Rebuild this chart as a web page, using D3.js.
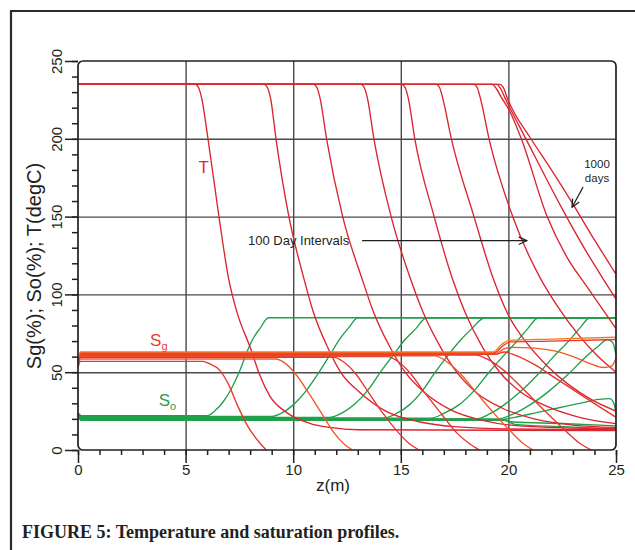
<!DOCTYPE html>
<html><head><meta charset="utf-8">
<script src="https://cdn.jsdelivr.net/npm/d3@7"></script>
<style>
html,body{margin:0;padding:0;background:#fff;}
svg{display:block;}
</style></head><body>
<svg id="chart" width="635" height="550"></svg>
<script>
// Profiles along the tube, one curve every 100 days (100 ... 1000 days).
const days = [100, 200, 300, 400, 500, 600, 700, 800, 900, 1000];
const zTicks = [0, 5, 10, 15, 20, 25];
const vTicks = [0, 50, 100, 150, 200, 250];

// Temperature, degC, as [z(m), T]
const T100 = [[0,235],[5.45,235],[5.6,233],[5.75,226],[6.04,200],[6.55,150],[7.0,110],[7.4,88],[8.0,66],[8.45,48],[8.9,35],[9.7,24],[10.8,17],[11.7,14.5],[13,13],[25,12.5]];
const T200 = [[0,235],[8.65,235],[8.8,233],[8.95,226],[9.2,200],[9.8,150],[10.5,110],[10.95,88],[11.6,66],[12.2,50],[13.1,37],[14.3,25],[15.9,18],[17.5,15],[20,13.5],[25,13]];
const T300 = [[0,235],[10.95,235],[11.1,233],[11.25,226],[11.55,200],[12.3,150],[13.2,110],[13.75,88],[14.5,66],[15.2,50],[16.1,37],[17.3,26],[18.8,19],[20.5,15.5],[25,13.5]];
const T400 = [[0,235],[13.15,235],[13.3,233],[13.45,226],[13.75,200],[14.55,150],[15.45,110],[16.05,88],[16.85,66],[17.6,50],[18.5,37],[19.7,27],[21.2,20],[23,16],[25,14.5]];
const T500 = [[0,235],[15.05,235],[15.2,233],[15.35,226],[15.65,200],[16.55,150],[17.4,110],[18.0,88],[18.8,66],[19.6,50],[20.6,37],[21.8,28],[23.3,21],[25,17]];
const T600 = [[0,235],[16.65,235],[16.8,233],[16.95,226],[17.35,200],[18.4,150],[19.3,110],[19.95,88],[20.9,68],[21.8,54],[22.8,42],[23.9,32],[25,25]];
const T700 = [[0,235],[18.4,235],[18.55,233],[18.7,226],[19.1,200],[20.2,150],[21.5,110],[22.3,92],[23.2,75],[24.1,61],[25,50]];
const T800 = [[0,235],[19.25,235],[19.45,232],[19.7,226],[20.05,218],[20.6,200],[21.8,150],[22.8,122],[23.6,106],[24.3,92],[25,78]];
const T900 = [[0,235],[19.45,235],[19.65,232],[19.85,226],[20.1,219],[20.7,203],[22.5,155],[23.6,128],[24.4,110],[25,97]];
const T1000 = [[0,235],[19.6,235],[19.8,232],[19.95,226],[20.15,220],[21.0,201],[22.0,180],[23.0,158],[24.0,135],[25,113]];

// Gas saturation, %, as [z(m), Sg]
const Sg100 = [[0,53],[0.12,57],[5.8,57],[6.1,55.5],[6.6,51],[7.0,42],[7.4,29],[7.9,15],[8.45,4.5],[8.75,0]];
const Sg200 = [[0,54],[0.12,58.5],[9.2,58.5],[9.6,56],[10.1,49],[10.7,37],[11.3,24],[11.9,11],[12.35,4],[12.75,0]];
const Sg300 = [[0,55],[0.12,59.5],[11.9,59.5],[12.3,57],[12.9,49],[13.5,37],[14.2,23],[14.9,11],[15.4,4],[15.85,0]];
const Sg400 = [[0,56],[0.12,60],[14.4,60],[14.8,57.5],[15.4,50],[16.1,37],[16.9,23],[17.6,11],[18.2,4],[18.65,0]];
const Sg500 = [[0,56],[0.12,60.5],[16.6,60.5],[17.0,58],[17.7,50],[18.5,37],[19.3,24],[20.1,12],[20.7,4],[21.15,0]];
const Sg600 = [[0,57],[0.12,61],[18.5,61],[19.0,58.5],[19.8,51],[20.7,39],[21.7,25],[22.6,13],[23.3,4.5],[23.85,0]];
const Sg700 = [[0,57],[0.12,61.5],[19.4,61.5],[19.8,63],[20.3,61],[21.2,55],[22.2,46],[23.2,37],[24.2,28],[25,21]];
const Sg800 = [[0,58],[0.12,62],[19.4,62],[19.8,65],[20.2,66],[21.2,65.5],[22.2,63.5],[23.1,59.5],[23.8,55.5],[24.4,53],[24.8,54],[25,59]];
const Sg900 = [[0,58],[0.12,62.5],[19.35,62.5],[19.75,67],[20.1,69.5],[22,70],[25,71]];
const Sg1000 = [[0,59],[0.12,63],[19.3,63],[19.7,68],[20.05,70.5],[22,71.3],[25,72.5]];

// Oil saturation, %, as [z(m), So]
const So100 = [[0,24],[0.15,22],[6.0,22],[6.35,25],[6.75,31],[7.15,40],[7.55,52],[7.85,63],[8.15,72],[8.45,78],[8.85,85],[25,85]];
const So200 = [[0,23.5],[0.15,21.5],[9.0,21.5],[9.5,24],[10.0,29],[10.6,38],[11.2,50],[11.7,61],[12.2,72],[12.6,79],[13.0,85],[25,85]];
const So300 = [[0,23],[0.15,21],[11.7,21],[12.3,24],[12.9,30],[13.5,39],[14.1,51],[14.7,62],[15.2,71],[15.7,78],[16.2,85],[25,85]];
const So400 = [[0,22.5],[0.15,20.5],[14.2,20.5],[14.8,23.5],[15.4,29],[16.0,38],[16.6,50],[17.2,61],[17.8,71],[18.3,78],[18.9,85],[25,85]];
const So500 = [[0,22.5],[0.15,20.5],[16.4,20.5],[17.0,23.5],[17.7,29],[18.4,38],[19.1,50],[19.8,61],[20.4,70],[20.9,78],[21.4,85],[25,85]];
const So600 = [[0,22],[0.15,20],[18.5,20],[19.1,23],[19.8,29],[20.6,38],[21.4,49],[22.1,60],[22.8,70],[23.3,78],[23.8,85],[25,85]];
const So700 = [[0,22],[0.15,20],[19.5,20],[20.2,23],[21.0,29],[21.9,38],[22.8,49],[23.6,60],[24.2,67],[24.6,71],[24.85,69],[25,61]];
const So800 = [[0,21.5],[0.15,19.5],[19.6,19.5],[20.3,21],[21.3,24],[22.3,27],[23.3,30],[24.2,32.5],[24.7,33],[24.9,30],[25,23]];
const So900 = [[0,21.5],[0.15,19.5],[19.7,19.5],[20.2,18],[22.5,17],[25,15.5]];
const So1000 = [[0,21],[0.15,19],[19.8,19],[20.3,16.5],[22.5,15],[25,13.5]];

const tempProfiles = [T100, T200, T300, T400, T500, T600, T700, T800, T900, T1000];
const gasProfiles = [Sg100, Sg200, Sg300, Sg400, Sg500, Sg600, Sg700, Sg800, Sg900, Sg1000];
const oilProfiles = [So100, So200, So300, So400, So500, So600, So700, So800, So900, So1000];

const svg = d3.select("#chart");
const ink = "#231f20";
const sans = "'Liberation Sans', Arial, Helvetica, sans-serif";
const x = d3.scaleLinear().domain([0, 25]).range([78, 616]);
const y = d3.scaleLinear().domain([0, 250]).range([450, 61]);
const [x0, x1] = x.range();
const [yb, yt] = y.range();

// page frame
svg.append("path").attr("d", `M11,550 L11,11 L635,11`)
  .attr("fill", "none").attr("stroke", "#2b2b2b").attr("stroke-width", 2.2);

// grid
const gridStyle = g => {
  g.select(".domain").remove();
  g.selectAll("line").attr("stroke", "#4a4a4a").attr("stroke-width", 1.4);
};
svg.append("g").attr("transform", `translate(0,${yb})`)
  .call(d3.axisBottom(x).tickValues(zTicks.slice(1, -1)).tickSize(-(yb - yt)).tickFormat(""))
  .call(gridStyle);
svg.append("g").attr("transform", `translate(${x0},0)`)
  .call(d3.axisLeft(y).tickValues(vTicks.slice(1, -1)).tickSize(-(x1 - x0)).tickFormat(""))
  .call(gridStyle);

// curves
const line = d3.line().x(d => x(d[0])).y(d => y(d[1])).curve(d3.curveMonotoneX);
const draw = (profiles, colorOf) => {
  svg.append("g").attr("fill", "none").attr("stroke-width", 1.35)
    .selectAll("path").data(profiles).join("path")
    .attr("d", line)
    .attr("stroke", (d, i) => colorOf(i));
};
draw(oilProfiles, () => "#20a04b");
draw(tempProfiles, () => "#dc2430");
draw(gasProfiles, i => i === 9 ? "#f47c20" : (i % 3 === 1 ? "#ef5a2a" : "#e8352d"));

// plot frame with rounded corners
svg.append("rect").attr("x", x0).attr("y", yt)
  .attr("width", x1 - x0).attr("height", yb - yt).attr("rx", 5)
  .attr("fill", "none").attr("stroke", ink).attr("stroke-width", 1.7);

// axes
const tickStyle = g => {
  g.select(".domain").remove();
  g.selectAll("line").attr("stroke", ink).attr("stroke-width", 1.5);
  g.selectAll("text").attr("fill", ink)
    .style("font-family", sans)
    .style("font-size", "15px");
};
svg.append("g").attr("transform", `translate(${x0},0)`)
  .call(d3.axisLeft(y).tickValues(d3.range(0, 251, 10)).tickSize(6).tickFormat(""))
  .call(tickStyle);
svg.append("g").attr("transform", `translate(${x0},0)`)
  .call(d3.axisLeft(y).tickValues(vTicks).tickSize(13))
  .call(tickStyle)
  .call(g => g.selectAll(".tick text")
    .attr("transform", "rotate(-90)")
    .attr("x", 0).attr("y", -16).attr("dy", 0)
    .attr("text-anchor", "middle"));
svg.append("g").attr("transform", `translate(0,${yb})`)
  .call(d3.axisBottom(x).tickValues(d3.range(0, 26, 1)).tickSize(5).tickFormat(""))
  .call(tickStyle);
svg.append("g").attr("transform", `translate(0,${yb})`)
  .call(d3.axisBottom(x).tickValues(zTicks).tickSize(13).tickPadding(1))
  .call(tickStyle);

// axis titles
svg.append("text")
  .attr("transform", `translate(41,266) rotate(-90)`)
  .attr("text-anchor", "middle")
  .style("font-family", sans)
  .style("font-size", "20px").attr("fill", ink)
  .text("Sg(%); So(%); T(degC)");
svg.append("text")
  .attr("x", 333).attr("y", 491)
  .attr("text-anchor", "middle")
  .style("font-family", sans)
  .style("font-size", "17px").attr("fill", ink)
  .text("z(m)");

// curve labels
svg.append("text").attr("x", x(5.6)).attr("y", y(178))
  .style("font-family", sans).style("font-size", "17px").attr("fill", "#e2282e").text("T");
const sg = svg.append("text").attr("x", x(3.35)).attr("y", y(67))
  .style("font-family", sans).style("font-size", "17px").attr("fill", "#e63a32");
sg.append("tspan").text("S");
sg.append("tspan").attr("dy", 4).style("font-size", "11px").text("g");
const so = svg.append("text").attr("x", x(3.75)).attr("y", y(28))
  .style("font-family", sans).style("font-size", "17px").attr("fill", "#2a9d4a");
so.append("tspan").text("S");
so.append("tspan").attr("dy", 4).style("font-size", "11px").text("o");

// annotations
const defs = svg.append("defs");
defs.append("marker").attr("id", "head")
  .attr("viewBox", "-1 -5 10 10").attr("refX", 8).attr("refY", 0)
  .attr("markerWidth", 10).attr("markerHeight", 10)
  .attr("markerUnits", "userSpaceOnUse").attr("orient", "auto")
  .append("path").attr("d", "M0,-3.8 L8,0 L0,3.8")
  .attr("fill", "none").attr("stroke", ink).attr("stroke-width", 1.3);

svg.append("text").attr("x", 248).attr("y", 245)
  .style("font-family", sans).style("font-size", "13px").attr("fill", ink)
  .text("100 Day Intervals");
svg.append("line")
  .attr("x1", x(13.2)).attr("y1", y(134.5)).attr("x2", x(20.85)).attr("y2", y(134.5))
  .attr("stroke", ink).attr("stroke-width", 1.3).attr("marker-end", "url(#head)");

svg.append("text").attr("x", 597).attr("y", 168).attr("text-anchor", "middle")
  .style("font-family", sans).style("font-size", "11.5px").attr("fill", ink).text("1000");
svg.append("text").attr("x", 597).attr("y", 182).attr("text-anchor", "middle")
  .style("font-family", sans).style("font-size", "11.5px").attr("fill", ink).text("days");
svg.append("line")
  .attr("x1", x(23.47)).attr("y1", y(169)).attr("x2", x(22.96)).attr("y2", y(156))
  .attr("stroke", ink).attr("stroke-width", 1.3).attr("marker-end", "url(#head)");

// caption
svg.append("text").attr("x", 22).attr("y", 538)
  .style("font-family", "'Liberation Serif', 'Times New Roman', serif")
  .style("font-size", "18px").style("font-weight", "bold").attr("fill", ink)
  .text("FIGURE 5: Temperature and saturation profiles.");
</script>
</body></html>
